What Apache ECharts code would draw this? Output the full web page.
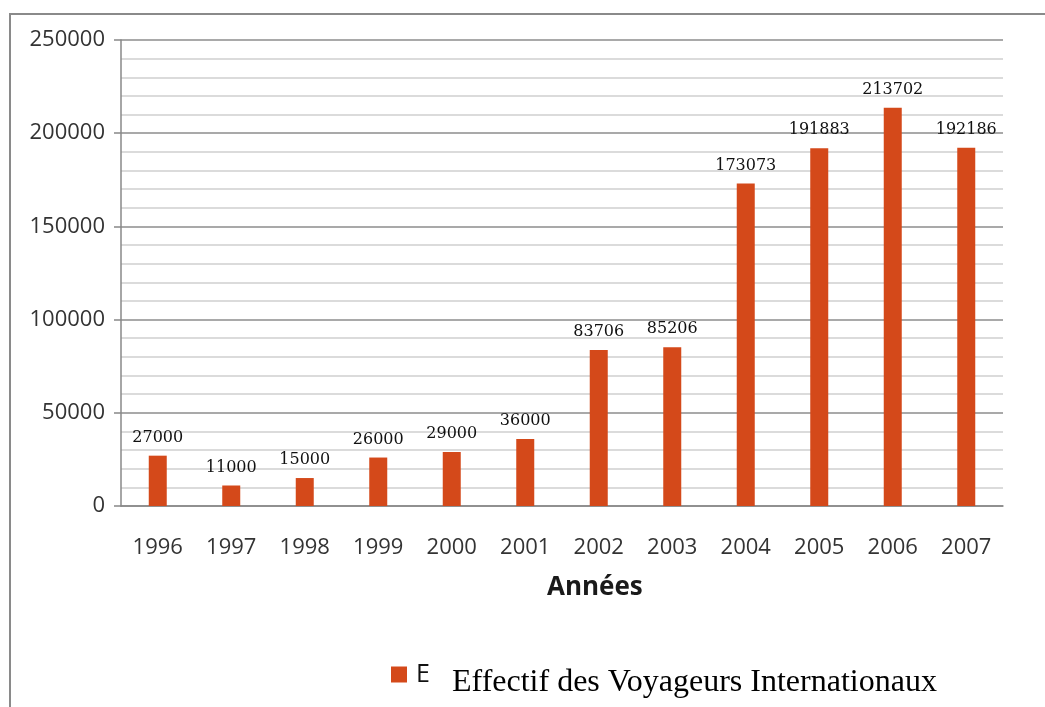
<!DOCTYPE html>
<html>
<head>
<meta charset="utf-8">
<script src="https://cdn.jsdelivr.net/npm/echarts@6/dist/echarts.min.js"></script>
<style>
  html, body { margin: 0; padding: 0; background: #fff; }
  #chart { width: 1045px; height: 707px; }
</style>
</head>
<body>
<div id="chart"></div>
<script>
// données
const years = ['1996', '1997', '1998', '1999', '2000', '2001', '2002', '2003', '2004', '2005', '2006', '2007']
const voyageurs = [27000, 11000, 15000, 26000, 29000, 36000, 83706, 85206, 173073, 191883, 213702, 192186]
const seriesName = 'Effectif des Voyageurs Internationaux'
const axisTitle = 'Années'

const chart = echarts.init(document.getElementById('chart'))

const option = {
  animation: false,
  backgroundColor: '#fff',
  grid: { left: 121, right: 42, top: 40, bottom: 201 },
  legend: {
    left: 386,
    top: 657,
    itemWidth: 16,
    itemHeight: 16,
    itemGap: 6,
    icon: 'rect',
    formatter: () => 'E',
    textStyle: { fontFamily: 'Open Sans', fontSize: 25, color: '#111', padding: [0, 0, 0, 4] },
    data: [seriesName],
  },
  graphic: [
    {
      type: 'rect',
      silent: true,
      shape: { x: 10, y: 14, width: 1100, height: 800 },
      style: { fill: 'none', stroke: '#8a8a8a', lineWidth: 2 },
    },
    {
      type: 'text',
      left: 547,
      top: 575,
      style: { text: axisTitle, font: 'bold 26px "Open Sans"', fill: '#1a1a1a' },
    },
    {
      type: 'text',
      left: 452,
      top: 667,
      style: { text: seriesName, font: '32px "Liberation Serif"', fill: '#000' },
    },
  ],
  xAxis: {
    type: 'category',
    data: years,
    axisLine: { lineStyle: { color: '#888', width: 1.5 } },
    axisTick: { show: false },
    axisLabel: { fontFamily: 'Open Sans', fontSize: 22, color: '#333', margin: 31 },
  },
  yAxis: {
    type: 'value',
    min: 0,
    max: 250000,
    interval: 50000,
    axisLine: { show: true, lineStyle: { color: '#888', width: 1.5 } },
    axisTick: { show: true, length: 7, lineStyle: { color: '#888', width: 1.5 } },
    axisLabel: { fontFamily: 'Open Sans', fontSize: 22, color: '#333', margin: 16, formatter: v => String(v) },
    splitLine: { lineStyle: { color: '#8c8c8c', width: 1.5 } },
    minorTick: { show: false, splitNumber: 5 },
    minorSplitLine: { show: true, lineStyle: { color: '#cfcfcf', width: 1.5 } },
  },
  series: [
    {
      name: seriesName,
      type: 'bar',
      data: voyageurs,
      barWidth: 18,
      itemStyle: { color: '#d4491a' },
      label: {
        show: true,
        position: 'top',
        distance: 10,
        fontFamily: 'DejaVu Serif',
        fontSize: 16,
        color: '#111',
      },
    },
  ],
}

chart.setOption(option)
</script>
</body>
</html>
